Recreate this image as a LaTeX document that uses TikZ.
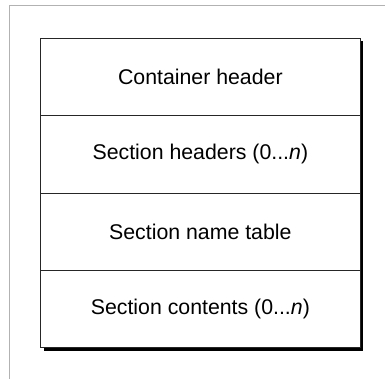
\documentclass[tikz,border=0pt]{standalone}
\usepackage{fontspec}
\setmainfont{Liberation Sans}
\usetikzlibrary{positioning}

\begin{document}
\begin{tikzpicture}[x=1pt,y=-1pt,
        part/.style={draw=black!85, line width=0.8pt, minimum width=319.3pt, minimum height=77.3pt,
            inner sep=0pt, outer sep=0pt, font=\fontsize{21.3}{25}\selectfont}]
        \useasboundingbox (0,0) rectangle (390,379);
        % page frame, only top and left edges
        \draw[black!30, line width=1pt] (9,379) -- (9,6) -- (385,6);
        % drop shadow
        \fill[black] (43.5,41.5) rectangle (363,350.5);
        \fill[white] (40.7,38.3) rectangle (360,347.7);
        \node[part] (cont) at (200.35,77) {Container header};
        \node[part, below=0pt of cont] (heads) {Section headers (0...\textit{n})};
        \node[part, below=0pt of heads] (names) {Section name table};
        \node[part, below=0pt of names] (body) {Section contents (0...\textit{n})};
    \end{tikzpicture}
\end{document}
